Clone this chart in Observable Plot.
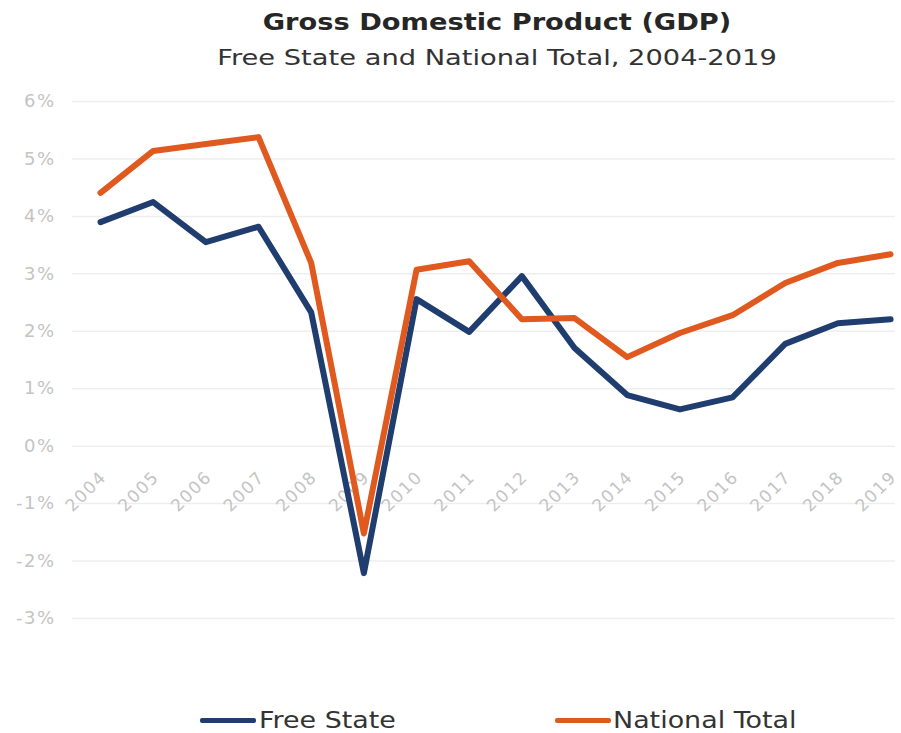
<!DOCTYPE html>
<html><head><meta charset="utf-8">
<script src="https://cdn.jsdelivr.net/npm/d3@7"></script>
<script src="https://cdn.jsdelivr.net/npm/@observablehq/plot@0.6"></script>
<style>
body{margin:0;background:#fff;font-family:"DejaVu Sans",Verdana,sans-serif;width:901px;height:733px;overflow:hidden;}
#head{height:80px;box-sizing:border-box;padding-top:4px;padding-left:93px;text-align:center;}
#head .t{font-weight:bold;font-size:23px;line-height:36px;color:#262626;white-space:nowrap;transform-origin:50% 0;transform:scaleX(1.185);}
#head .s{font-size:22px;line-height:36px;color:#333;white-space:nowrap;transform-origin:50% 0;transform:scaleX(1.24);}
#legend{position:relative;height:53px;}
#legend .ln{position:absolute;top:38px;height:5px;width:56px;border-radius:2px;}
#legend .lb{position:absolute;top:27px;font-size:23px;line-height:26px;color:#333;white-space:nowrap;transform-origin:0 0;transform:scaleX(1.17);}
#chart svg{display:block;}
</style></head><body>
<div id="head"><div class="t">Gross Domestic Product (GDP)</div><div class="s">Free State and National Total, 2004-2019</div></div>
<div id="chart"></div>
<div id="legend">
  <div class="ln" style="left:200px;background:#1f3d6e"></div><div class="lb" style="left:259px">Free State</div>
  <div class="ln" style="left:555px;background:#e0591f"></div><div class="lb" style="left:613px">National Total</div>
</div>
<script>
const years = ["2004","2005","2006","2007","2008","2009","2010","2011","2012","2013","2014","2015","2016","2017","2018","2019"];
const freeState = [3.90,4.25,3.55,3.82,2.33,-2.21,2.56,1.99,2.96,1.71,0.89,0.64,0.85,1.78,2.14,2.21];
const nationalTotal = [4.41,5.14,5.26,5.38,3.19,-1.52,3.07,3.22,2.21,2.23,1.55,1.97,2.28,2.84,3.19,3.34];
const seriesNames = ["Free State","National Total"];
const seriesColors = ["#1f3d6e","#e0591f"];
const yTicks = [-3,-2,-1,0,1,2,3,4,5,6];

const data = [];
years.forEach((y,i)=>{ data.push({year:y, value:freeState[i], series:seriesNames[0]}); });
years.forEach((y,i)=>{ data.push({year:y, value:nationalTotal[i], series:seriesNames[1]}); });

const chart = Plot.plot({
  width:901, height:600,
  marginLeft:72, marginRight:6, marginTop:21, marginBottom:62,
  style:{fontFamily:"DejaVu Sans, Verdana, sans-serif", background:"#fff", letterSpacing:"1.5px"},
  x:{type:"point", domain:years, padding:0.313, align:0.85, round:false, axis:null},
  y:{domain:[-3,6], axis:null},
  color:{domain:seriesNames, range:seriesColors},
  marks:[
    Plot.ruleY(yTicks,{stroke:"#eeeeee", strokeWidth:1.5}),
    Plot.axisY({ticks:yTicks, tickSize:0, tickPadding:17, tickFormat:d=>`${d}%`, fill:"#c4c4c4", fontSize:18, label:null}),
    Plot.text(years,{x:d=>d, y:()=>0, text:d=>d, rotate:-45, textAnchor:"end", dx:3, dy:28, fill:"#c4c4c4", fontSize:17}),
    Plot.line(data,{x:"year", y:"value", stroke:"series", z:"series", strokeWidth:6})
  ]
});
document.getElementById("chart").appendChild(chart);
</script>
</body></html>
